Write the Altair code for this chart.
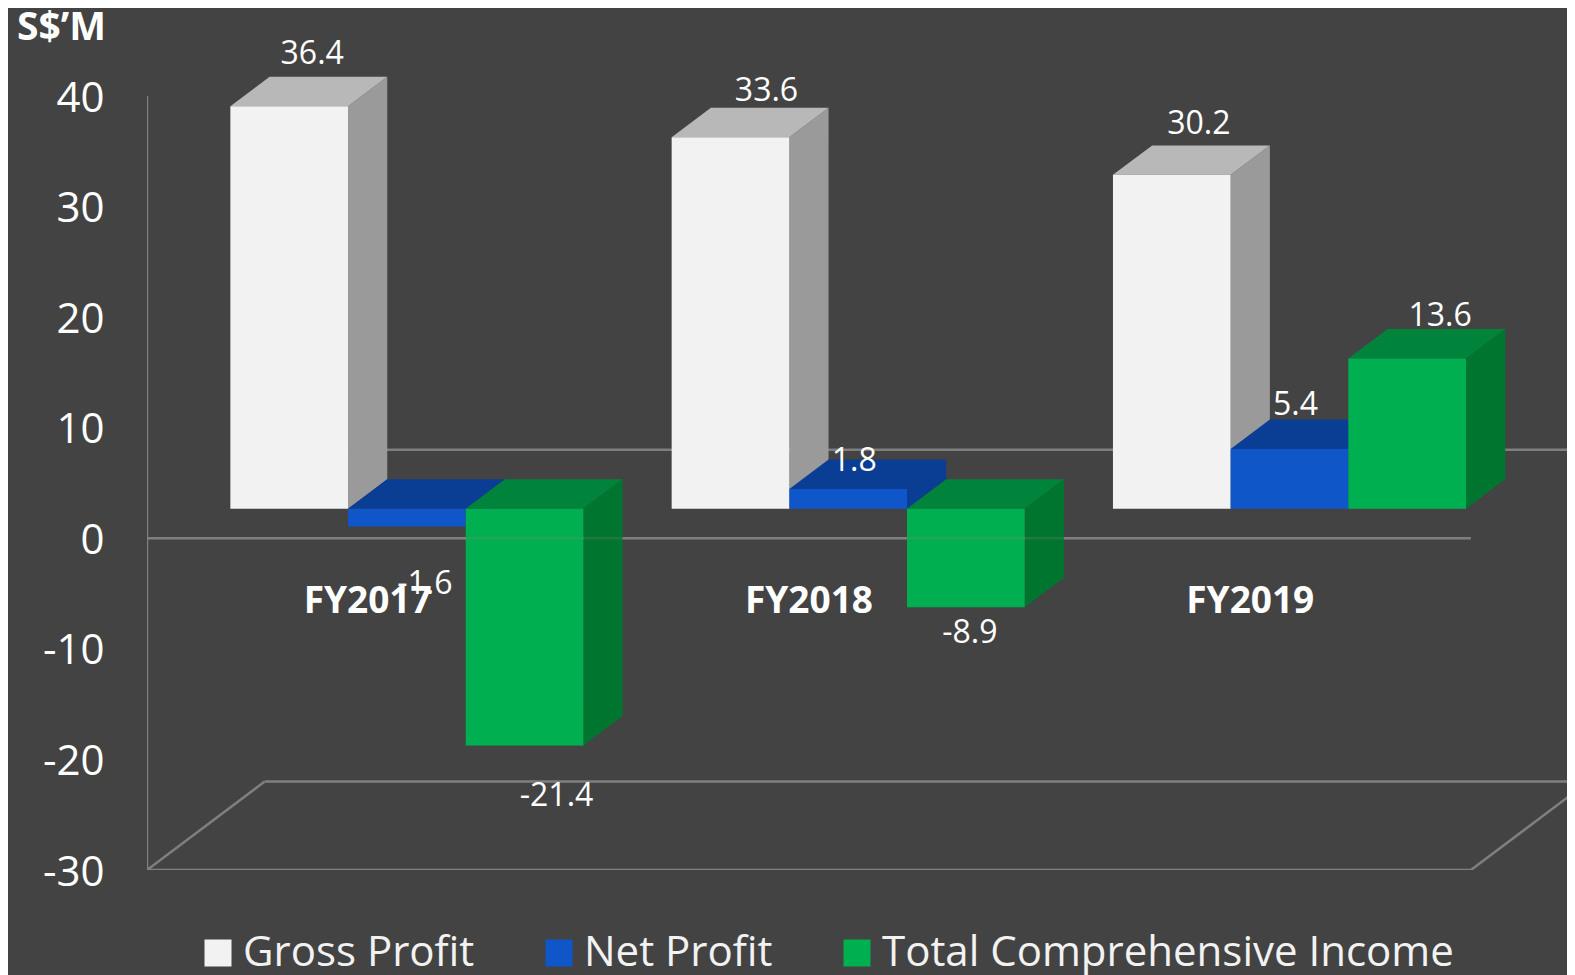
import altair as alt
import pandas as pd

categories = ["FY2017", "FY2018", "FY2019"]
series = ["Gross Profit", "Net Profit", "Total Comprehensive Income"]
gross_profit = [36.4, 33.6, 30.2]
net_profit = [-1.6, 1.8, 5.4]
total_income = [-21.4, -8.9, 13.6]
y_ticks = [-30, -20, -10, 0, 10, 20, 30, 40]
front_colors = ["#F2F2F2", "#0F57C8", "#00B050"]
top_colors = ["#B8B8B8", "#0A3E94", "#00843C"]
side_colors = ["#9A9A9A", "#0A3E94", "#00752F"]
# hand placed label offsets from each bar's front centre/end, in pixels
label_dx = [[23, 18, 32], [36, 6, 4], [27, 6, 33]]
label_dy = [[-52, 58, 51], [-46, -28, 26], [-51, -44, -42]]

BG = "#434343"
LINE = "#7F7F7F"
FONT = "Open Sans"
TEXT = "#FFFFFF"

PAD_L, PAD_T, PAD_B = 139, 88, 105
W, H = 1420, 774
Y_DOM = [-30, 40]
PX_PER_X = 441.3
PX_PER_Y = H / (Y_DOM[1] - Y_DOM[0])
X_DOM = [0, W / PX_PER_X]
BAR_W = 0.8 / 3
DX = BAR_W / 3       # depth step in category units
DZ = 8 / 3           # depth step in value units
GAP = 0.1

xs = alt.Scale(domain=X_DOM, nice=False, zero=False)
ys = alt.Scale(domain=Y_DOM, nice=False, zero=False)
y_axis = alt.Axis(
    values=y_ticks, ticks=False, grid=False, domain=False,
    labelExpr="'' + datum.value", labelOffset=2,
    labelFontSize=42, labelColor=TEXT, labelFont=FONT, labelPadding=43,
    title="S$\u2019M", titleAngle=0, titleFont=FONT, titleFontSize=39,
    titleFontWeight="bold", titleColor=TEXT, titleX=-86, titleY=-69,
    titleAlign="center", titleBaseline="middle")
X = lambda f="x": alt.X(f"{f}:Q", scale=xs, axis=None)
Y = lambda f="y": alt.Y(f"{f}:Q", scale=ys, axis=y_axis)


def poly(points, color):
    df = pd.DataFrame(points, columns=["x", "y", "y2"])
    return alt.Chart(df).mark_area(color=color, line=False).encode(
        x=X(), y=Y(), y2=alt.Y2("y2:Q"))


def line(points, opacity=1.0):
    df = pd.DataFrame(points, columns=["x", "y"])
    df["i"] = range(len(df))
    return alt.Chart(df).mark_line(color=LINE, strokeWidth=2.5, clip=True, opacity=opacity).encode(
        x=X(), y=Y(), order="i:Q")


layers = []
# axis line, floor and zero planes
layers.append(line([(0, -30), (0, 40)]))
layers.append(line([(0, -30), (3, -30)]))
layers.append(line([(0, -30), (3 * DX, -30 + 3 * DZ)]))
layers.append(line([(3 * DX, -30 + 3 * DZ), (3 + 3 * DX, -30 + 3 * DZ)]))
layers.append(line([(3, -30), (3 + 3 * DX, -30 + 3 * DZ)]))
layers.append(line([(0, 0), (3, 0)]))
layers.append(line([(3 * DX, 3 * DZ), (3 + 3 * DX, 3 * DZ)]))

columns = [gross_profit, net_profit, total_income]
labels = []
for c, cat in enumerate(categories):
    for s, name in enumerate(series):
        v = columns[s][c]
        x0 = c + GAP + s * BAR_W + DX
        x1 = x0 + BAR_W
        top, bot = max(v, 0) + DZ, min(v, 0) + DZ
        # side face
        layers.append(poly([(x1, top, bot), (x1 + DX, top + DZ, bot + DZ)], side_colors[s]))
        # top face
        layers.append(poly([(x0, top, top), (x0 + DX, top + DZ, top), (x1, top + DZ, top),
                            (x1 + DX, top + DZ, top + DZ)], top_colors[s]))
        # front face
        front = pd.DataFrame([{"x": x0, "x2": x1, "y": top, "y2": bot, "series": name}])
        layers.append(alt.Chart(front).mark_bar().encode(
            x=X(), x2="x2:Q", y=Y(), y2="y2:Q",
            color=alt.Color("series:N", scale=alt.Scale(domain=series, range=front_colors),
                            legend=alt.Legend(
                                orient="none", legendX=50, legendY=836, direction="horizontal",
                                columns=3, title=None, symbolType="square", symbolSize=729,
                                symbolStrokeWidth=0, labelFont=FONT, labelFontSize=42,
                                labelColor="#F2F2F2", labelOffset=4, columnPadding=63,
                                labelLimit=700, rowPadding=0, gridAlign="none")),
        ))
        labels.append({
            "x": (x0 + x1) / 2 + label_dx[c][s] / PX_PER_X,
            "y": (v + DZ) - label_dy[c][s] / PX_PER_Y,
            "text": f"{v:.1f}",
        })

layers.append(line([(0, 0), (3, 0)], opacity=0.25))
cat_df = pd.DataFrame({"x": [i + 0.5 for i in range(3)], "y": [-5.72] * 3, "text": categories})
layers.append(alt.Chart(cat_df).mark_text(
    font=FONT, fontSize=37, fontWeight="bold", color=TEXT).encode(x=X(), y=Y(), text="text:N"))
layers.append(alt.Chart(pd.DataFrame(labels)).mark_text(
    font=FONT, fontSize=32, color=TEXT).encode(x=X(), y=Y(), text="text:N"))

chart = alt.layer(*layers).properties(
    width=W, height=H, background=BG,
    padding={"left": PAD_L, "top": PAD_T, "right": 0, "bottom": PAD_B},
    autosize=alt.AutoSizeParams(type="none"),
).configure_view(stroke=None)

chart.save("out.html", embed_options={"renderer": "svg", "actions": False})
